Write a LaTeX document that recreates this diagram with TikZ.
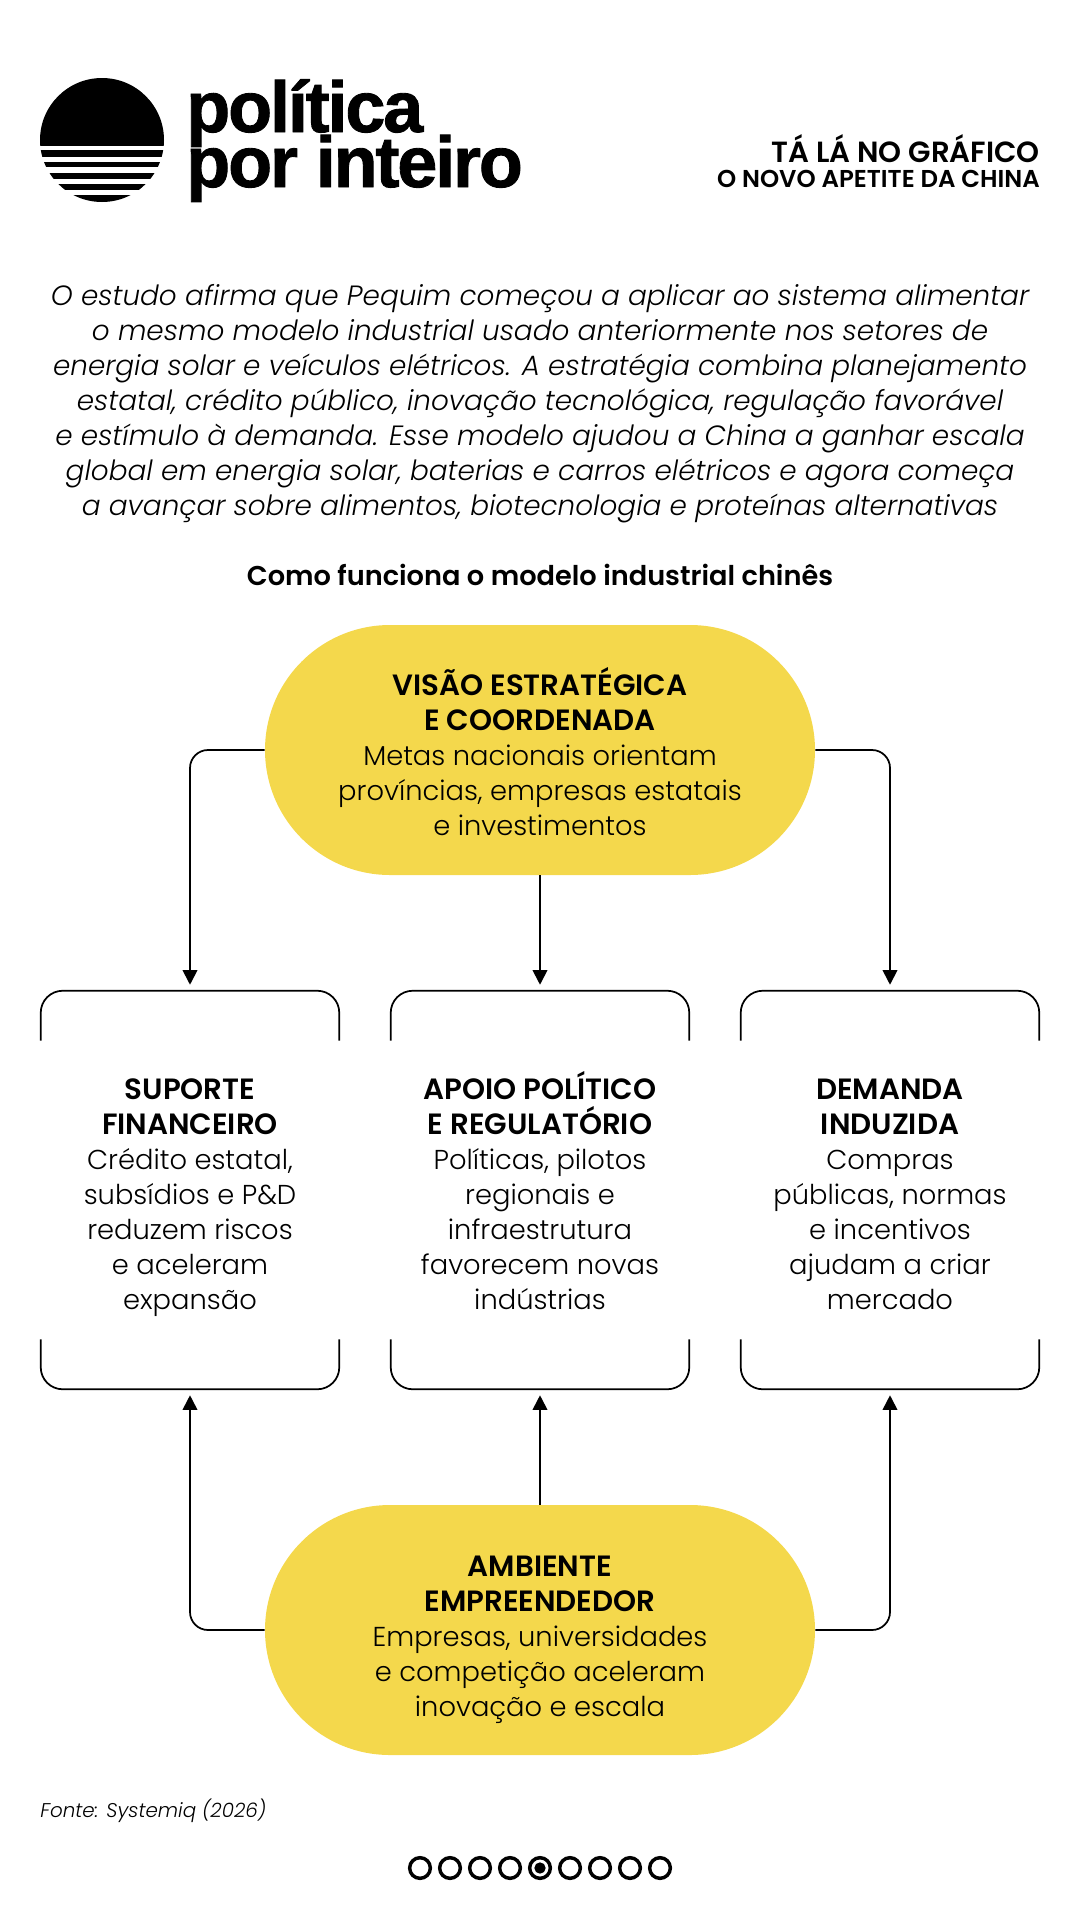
\documentclass[tikz,border=0pt]{standalone}
\usepackage{fontspec}
\setmainfont{Poppins Light}[ItalicFont=Poppins Light Italic, BoldFont=Poppins SemiBold]
\newfontfamily\logofont[LetterSpace=-3, FakeBold=1.2]{Liberation Sans Bold}
\newfontfamily\headfont{Poppins SemiBold}
\usetikzlibrary{arrows.meta}
\definecolor{pillyellow}{HTML}{F4D84C}
\newcommand{\topgap}[1]{\rule{0pt}{#1}}
\newcommand{\botgap}{\rule[-6pt]{0pt}{6pt}}
\newcommand{\headln}[1]{{\fontsize{22}{26.25}\selectfont\textbf{#1}}}
\newcommand{\logotype}{\logofont\fontsize{54}{41.25}\selectfont\lineskiplimit=-60pt\relax}
\begin{document}
\begin{tikzpicture}[x=0.75pt, y=-0.75pt,
    pill style/.style={fill=pillyellow, rounded corners=93.75pt, minimum width=412.5pt, minimum height=187.5pt, inner sep=0pt, align=center, font=\fontsize{20.5}{26.25}\selectfont},
    panel style/.style={minimum width=223.5pt, minimum height=298.5pt, inner sep=0pt, align=center, font=\fontsize{20.5}{26.25}\selectfont},
    logo style/.style={anchor=base west, inner sep=0pt, align=left, font=\logotype},
    bracket style/.style={draw=black, line width=1.3pt, rounded corners=16.5pt},
    flow style/.style={draw=black, line width=1.3pt, rounded corners=13.5pt, -{Triangle[length=11pt, width=11pt]}, shorten >=4.5pt},
    dot style/.style={circle, draw=black, line width=2.6pt, minimum size=15.5pt, inner sep=0pt},]
    \useasboundingbox (0,0) rectangle (1080,1920);

    % logo
    \fill (102,140) circle (46.5pt);
    \foreach \a/\b in {145.7/150, 156.7/161.7, 167.3/172.7, 179/183.7, 190/194.7}
        \fill[white] (30,\a) rectangle (175,\b);
    \node[style=logo style] (logo) at (186,187) {política\\por inteiro};

    \node[anchor=base east, inner sep=0pt, font=\headfont\fontsize{21.9}{24}\selectfont] (serie) at (1040,162) {TÁ LÁ NO GRÁFICO};
    \node[anchor=base east, inner sep=0pt, font=\headfont\fontsize{18.3}{24}\selectfont] (tema) at (1040,187) {O NOVO APETITE DA CHINA};

    \node[align=center, inner sep=0pt, font=\itshape\fontsize{20.9}{26.25}\selectfont] (intro) at (540,404) {O estudo afirma que Pequim começou a aplicar ao sistema alimentar\\
    o mesmo modelo industrial usado anteriormente nos setores de\\
    energia solar e veículos elétricos. A estratégia combina planejamento\\
    estatal, crédito público, inovação tecnológica, regulação favorável\\
    e estímulo à demanda. Esse modelo ajudou a China a ganhar escala\\
    global em energia solar, baterias e carros elétricos e agora começa\\
    a avançar sobre alimentos, biotecnologia e proteínas alternativas};

    \node[inner sep=0pt, font=\headfont\fontsize{20.4}{24}\selectfont] (titulo) at (540,575) {Como funciona o modelo industrial chinês};

    % pills and panels
    \node[style=pill style] (visao) at (540,750) {\topgap{28.5pt}\headln{VISÃO ESTRATÉGICA}\\\headln{E COORDENADA}\\Metas nacionais orientam\\províncias, empresas estatais\\e investimentos\botgap};
    \node[style=pill style] (ambiente) at (540,1630) {\topgap{30pt}\headln{AMBIENTE}\\\headln{EMPREENDEDOR}\\Empresas, universidades\\e competição aceleram\\inovação e escala\botgap};

    \node[style=panel style] (suporte) at (190,1190) {\topgap{27pt}\headln{SUPORTE}\\\headln{FINANCEIRO}\\Crédito estatal,\\subsídios e P\&D\\reduzem riscos\\e aceleram\\expansão\botgap};
    \node[style=panel style] (apoio) at (540,1190) {\topgap{27pt}\headln{APOIO POLÍTICO}\\\headln{E REGULATÓRIO}\\Políticas, pilotos\\regionais e\\infraestrutura\\favorecem novas\\indústrias\botgap};
    \node[style=panel style] (demanda) at (890,1190) {\topgap{27pt}\headln{DEMANDA}\\\headln{INDUZIDA}\\Compras\\públicas, normas\\e incentivos\\ajudam a criar\\mercado\botgap};

    \foreach \p in {suporte, apoio, demanda} {
        \draw[style=bracket style] ([yshift=-37.5pt]\p.north west) |- (\p.north) -| ([yshift=-37.5pt]\p.north east);
        \draw[style=bracket style] ([yshift=37.5pt]\p.south west) |- (\p.south) -| ([yshift=37.5pt]\p.south east);
    }

    \draw[style=flow style] (visao.west) -| (suporte.north);
    \draw[style=flow style] (visao.south) -- (apoio.north);
    \draw[style=flow style] (visao.east) -| (demanda.north);
    \draw[style=flow style] (ambiente.west) -| (suporte.south);
    \draw[style=flow style] (ambiente.north) -- (apoio.south);
    \draw[style=flow style] (ambiente.east) -| (demanda.south);

    \node[anchor=base west, inner sep=0pt, font=\itshape\fontsize{14.9}{18}\selectfont] (fonte) at (40,1817) {Fonte: Systemiq (2026)};

    % page dots
    \foreach \i in {0,...,8}
        \node[style=dot style] (dot\i) at ({420+30*\i},1868) {};
    \node[circle, fill=black, minimum size=8.5pt, inner sep=0pt] (atual) at (dot4) {};
\end{tikzpicture}
\end{document}
